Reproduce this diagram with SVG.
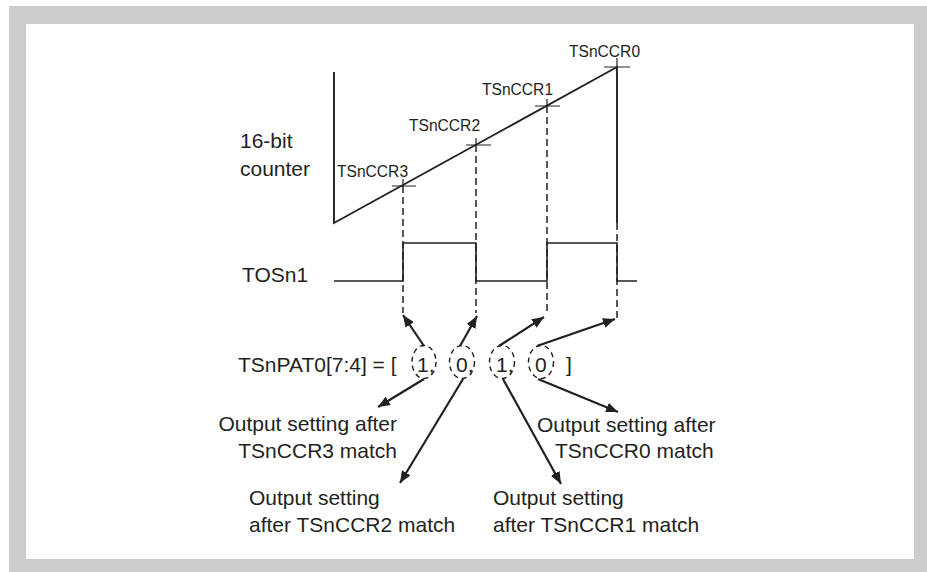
<svg xmlns="http://www.w3.org/2000/svg" width="927" height="572" viewBox="0 0 927 572">
<style>
.t{font-family:"Liberation Sans",Arial,sans-serif;font-size:21px;fill:#231f20}
.s{font-family:"Liberation Sans",Arial,sans-serif;font-size:15.6px;fill:#231f20}
.ln{fill:none;stroke:#231f20;stroke-width:1.6}
.dash{fill:none;stroke:#231f20;stroke-width:1.5;stroke-dasharray:7 4}
.el{fill:none;stroke:#231f20;stroke-width:1.4;stroke-dasharray:5 4}
.ar{fill:none;stroke:#231f20;stroke-width:2.2;marker-end:url(#ah)}
</style>
<defs>
<marker id="ah" markerUnits="userSpaceOnUse" markerWidth="13" markerHeight="10" refX="12" refY="5" orient="auto">
<path d="M0,0 L12,5 L0,10 z" fill="#231f20"/>
</marker>
</defs>
<rect x="9" y="6" width="918" height="566" fill="#cccccc"/>
<rect x="26" y="24" width="888" height="535" fill="#ffffff"/>

<g id="counter">
<path class="ln" d="M334,72 L334,223 L617,67 L617,223" style="stroke-width:1.9"/>
<path class="ln" d="M392,186 H416 M403,179 V186 M466,145 H491 M476,138 V145 M535,106 H560 M547,99 V106 M604,67 H630 M617,58 V67" style="stroke-width:1.2"/>
<text class="t" x="240" y="148">16-bit</text>
<text class="t" x="240" y="176">counter</text>
<text class="s" x="337" y="177">TSnCCR3</text>
<text class="s" x="409" y="131">TSnCCR2</text>
<text class="s" x="482" y="95">TSnCCR1</text>
<text class="s" x="569" y="57">TSnCCR0</text>
</g>

<g id="tosn1">
<path class="ln" d="M334,281 L403,281 L403,243 L476,243 L476,281 L547,281 L547,243 L617,243 L617,281 L637,281"/>
<text class="t" x="242" y="282">TOSn1</text>
</g>

<g id="pattern">
<text class="t" x="238" y="372">TSnPAT0[7:4] = [</text>
<ellipse class="el" cx="424" cy="362" rx="12" ry="16.5"/>
<ellipse class="el" cx="462" cy="362" rx="12.5" ry="16.5"/>
<ellipse class="el" cx="502" cy="362" rx="12.5" ry="16.5"/>
<ellipse class="el" cx="541" cy="362" rx="12.5" ry="16.5"/>
<text class="t" x="417" y="372">1,</text>
<text class="t" x="456" y="372">0,</text>
<text class="t" x="496" y="372">1,</text>
<text class="t" x="535" y="372">0</text>
<text class="t" x="566" y="372">]</text>
</g>

<g id="label-ccr3">
<text class="t" x="397" y="431" text-anchor="end">Output setting after</text>
<text class="t" x="397" y="458" text-anchor="end">TSnCCR3 match</text>
</g>
<g id="label-ccr0">
<text class="t" x="537" y="432">Output setting after</text>
<text class="t" x="555" y="458">TSnCCR0 match</text>
</g>
<g id="label-ccr2">
<text class="t" x="249" y="505">Output setting</text>
<text class="t" x="249" y="532">after TSnCCR2 match</text>
</g>
<g id="label-ccr1">
<text class="t" x="493" y="505">Output setting</text>
<text class="t" x="493" y="532">after TSnCCR1 match</text>
</g>

<g id="connectors">
<path class="dash" d="M403,186 V313 M476,145 V313 M547,106 V313 M617,223 V318"/>
<line class="ar" x1="424" y1="346" x2="403" y2="315"/>
<line class="ar" x1="460" y1="346" x2="477" y2="316"/>
<line class="ar" x1="499" y1="346" x2="544" y2="317"/>
<line class="ar" x1="537" y1="346" x2="615" y2="319"/>
<line class="ar" x1="424" y1="379" x2="378" y2="407"/>
<line class="ar" x1="463" y1="379" x2="400" y2="483"/>
<line class="ar" x1="503" y1="379" x2="561" y2="484"/>
<line class="ar" x1="538" y1="379" x2="618" y2="412"/>
</g>
</svg>
